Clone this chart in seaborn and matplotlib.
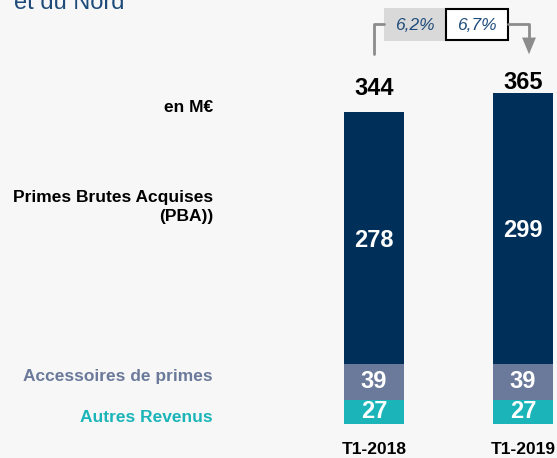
import matplotlib
matplotlib.use("Agg")
import matplotlib.pyplot as plt
import seaborn as sns
import pandas as pd
from matplotlib.patches import Rectangle, FancyArrowPatch

# Data (M€)
periods = ["T1-2018", "T1-2019"]
pba = [278, 299]
accessoires = [39, 39]
autres = [27, 27]
growth_labels = ["6,2%", "6,7%"]
series_names = ["Primes Brutes Acquises\n(PBA))", "Accessoires de primes", "Autres Revenus"]

NAVY = "#00305a"
SLATE = "#6b7a9b"
TEAL = "#1bb5b9"
BG = "#f7f7f7"

sns.set_theme(style="white")
plt.rcParams["font.family"] = ["Liberation Sans", "DejaVu Sans"]

W, H = 557, 458
fig = plt.figure(figsize=(W / 100, H / 100), dpi=100, facecolor=BG)
ax = fig.add_axes([0, 0, 1, 1])
ax.set_facecolor(BG)

totals = [a + b + c for a, b, c in zip(pba, accessoires, autres)]
lower2 = [b + c for b, c in zip(accessoires, autres)]
df = pd.DataFrame({"period": periods, "total": totals, "lower2": lower2, "autres": autres})

# Stacked bars drawn as overlaid cumulative heights
bw = 60 / 149
sns.barplot(data=df, x="period", y="total", color=NAVY, width=bw, saturation=1, ax=ax)
sns.barplot(data=df, x="period", y="lower2", color=SLATE, width=bw, saturation=1, ax=ax)
sns.barplot(data=df, x="period", y="autres", color=TEAL, width=bw, saturation=1, ax=ax)
for p in ax.patches:
    p.set_edgecolor("none")

# Map data space onto pixel layout
pxu = 0.907  # pixels per M€
x0px, step = 374, 149
ax.set_xlim(-x0px / step, (W - x0px) / step)
ax.set_ylim(-(H - 424) / pxu, 424 / pxu)
ax.axis("off")

# Segment values and totals
VAL_FS = 17
total_gap_px = [17, 4]
for i in range(len(periods)):
    ax.text(i, autres[i] / 2, str(autres[i]), ha="center", va="center",
            color="white", fontsize=VAL_FS, fontweight="bold")
    ax.text(i, autres[i] + accessoires[i] / 2, str(accessoires[i]), ha="center", va="center",
            color="white", fontsize=VAL_FS, fontweight="bold")
    ax.text(i, lower2[i] + pba[i] / 2 - 2 / pxu, str(pba[i]), ha="center", va="center",
            color="white", fontsize=VAL_FS, fontweight="bold")
    ax.text(i, totals[i] + total_gap_px[i] / pxu, str(totals[i]), ha="center", va="baseline",
            color="black", fontsize=VAL_FS, fontweight="bold")
    ax.text(i, -25 / pxu, periods[i], ha="center", va="center",
            color="black", fontsize=12.5, fontweight="bold")

def fx(px):
    return px / W

def fy(py):
    return 1 - py / H

# Left-side labels
LBL_FS = 12.5
fig.text(fx(213), fy(108), "en M€", ha="right", va="center", fontsize=LBL_FS, fontweight="bold", color="black")
fig.text(fx(213), fy(207), series_names[0], ha="right", va="center", fontsize=LBL_FS,
         fontweight="bold", color="black", linespacing=1.3)
fig.text(fx(213), fy(376), series_names[1], ha="right", va="center", fontsize=LBL_FS, fontweight="bold", color=SLATE)
fig.text(fx(213), fy(417), series_names[2], ha="right", va="center", fontsize=LBL_FS, fontweight="bold", color=TEAL)

# Title fragment at the top
fig.text(fx(14), fy(9), "et du Nord", ha="left", va="baseline", fontsize=17, color="#1f4b7a")

# Growth boxes
fig.patches.append(Rectangle((fx(384), fy(41)), (446 - 384) / W, 33 / H,
                             transform=fig.transFigure, facecolor="#d9d9d9", edgecolor="none"))
fig.patches.append(Rectangle((fx(446), fy(40)), (508 - 446) / W, 31 / H,
                             transform=fig.transFigure, facecolor="white", edgecolor="black", lw=1.5))
fig.text(fx(415), fy(25), growth_labels[0], ha="center", va="center", fontsize=12.5,
         style="italic", color="#1f4b7a")
fig.text(fx(477), fy(25), growth_labels[1], ha="center", va="center", fontsize=12.5,
         style="italic", color="#1f4b7a")

# Connector lines
GREY = "#8c8c8c"
fig.lines.append(plt.Line2D([fx(374), fx(374), fx(384)], [fy(54), fy(24), fy(24)],
                            transform=fig.transFigure, color=GREY, lw=2))
fig.lines.append(plt.Line2D([fx(508), fx(529), fx(529)], [fy(24), fy(24), fy(44)],
                            transform=fig.transFigure, color=GREY, lw=2))
fig.patches.append(FancyArrowPatch((fx(529), fy(43)), (fx(529), fy(57)),
                                   transform=fig.transFigure, arrowstyle="-|>,head_width=5,head_length=12",
                                   mutation_scale=1, color=GREY, lw=0))

fig.savefig("out.png", dpi=100, facecolor=BG)
